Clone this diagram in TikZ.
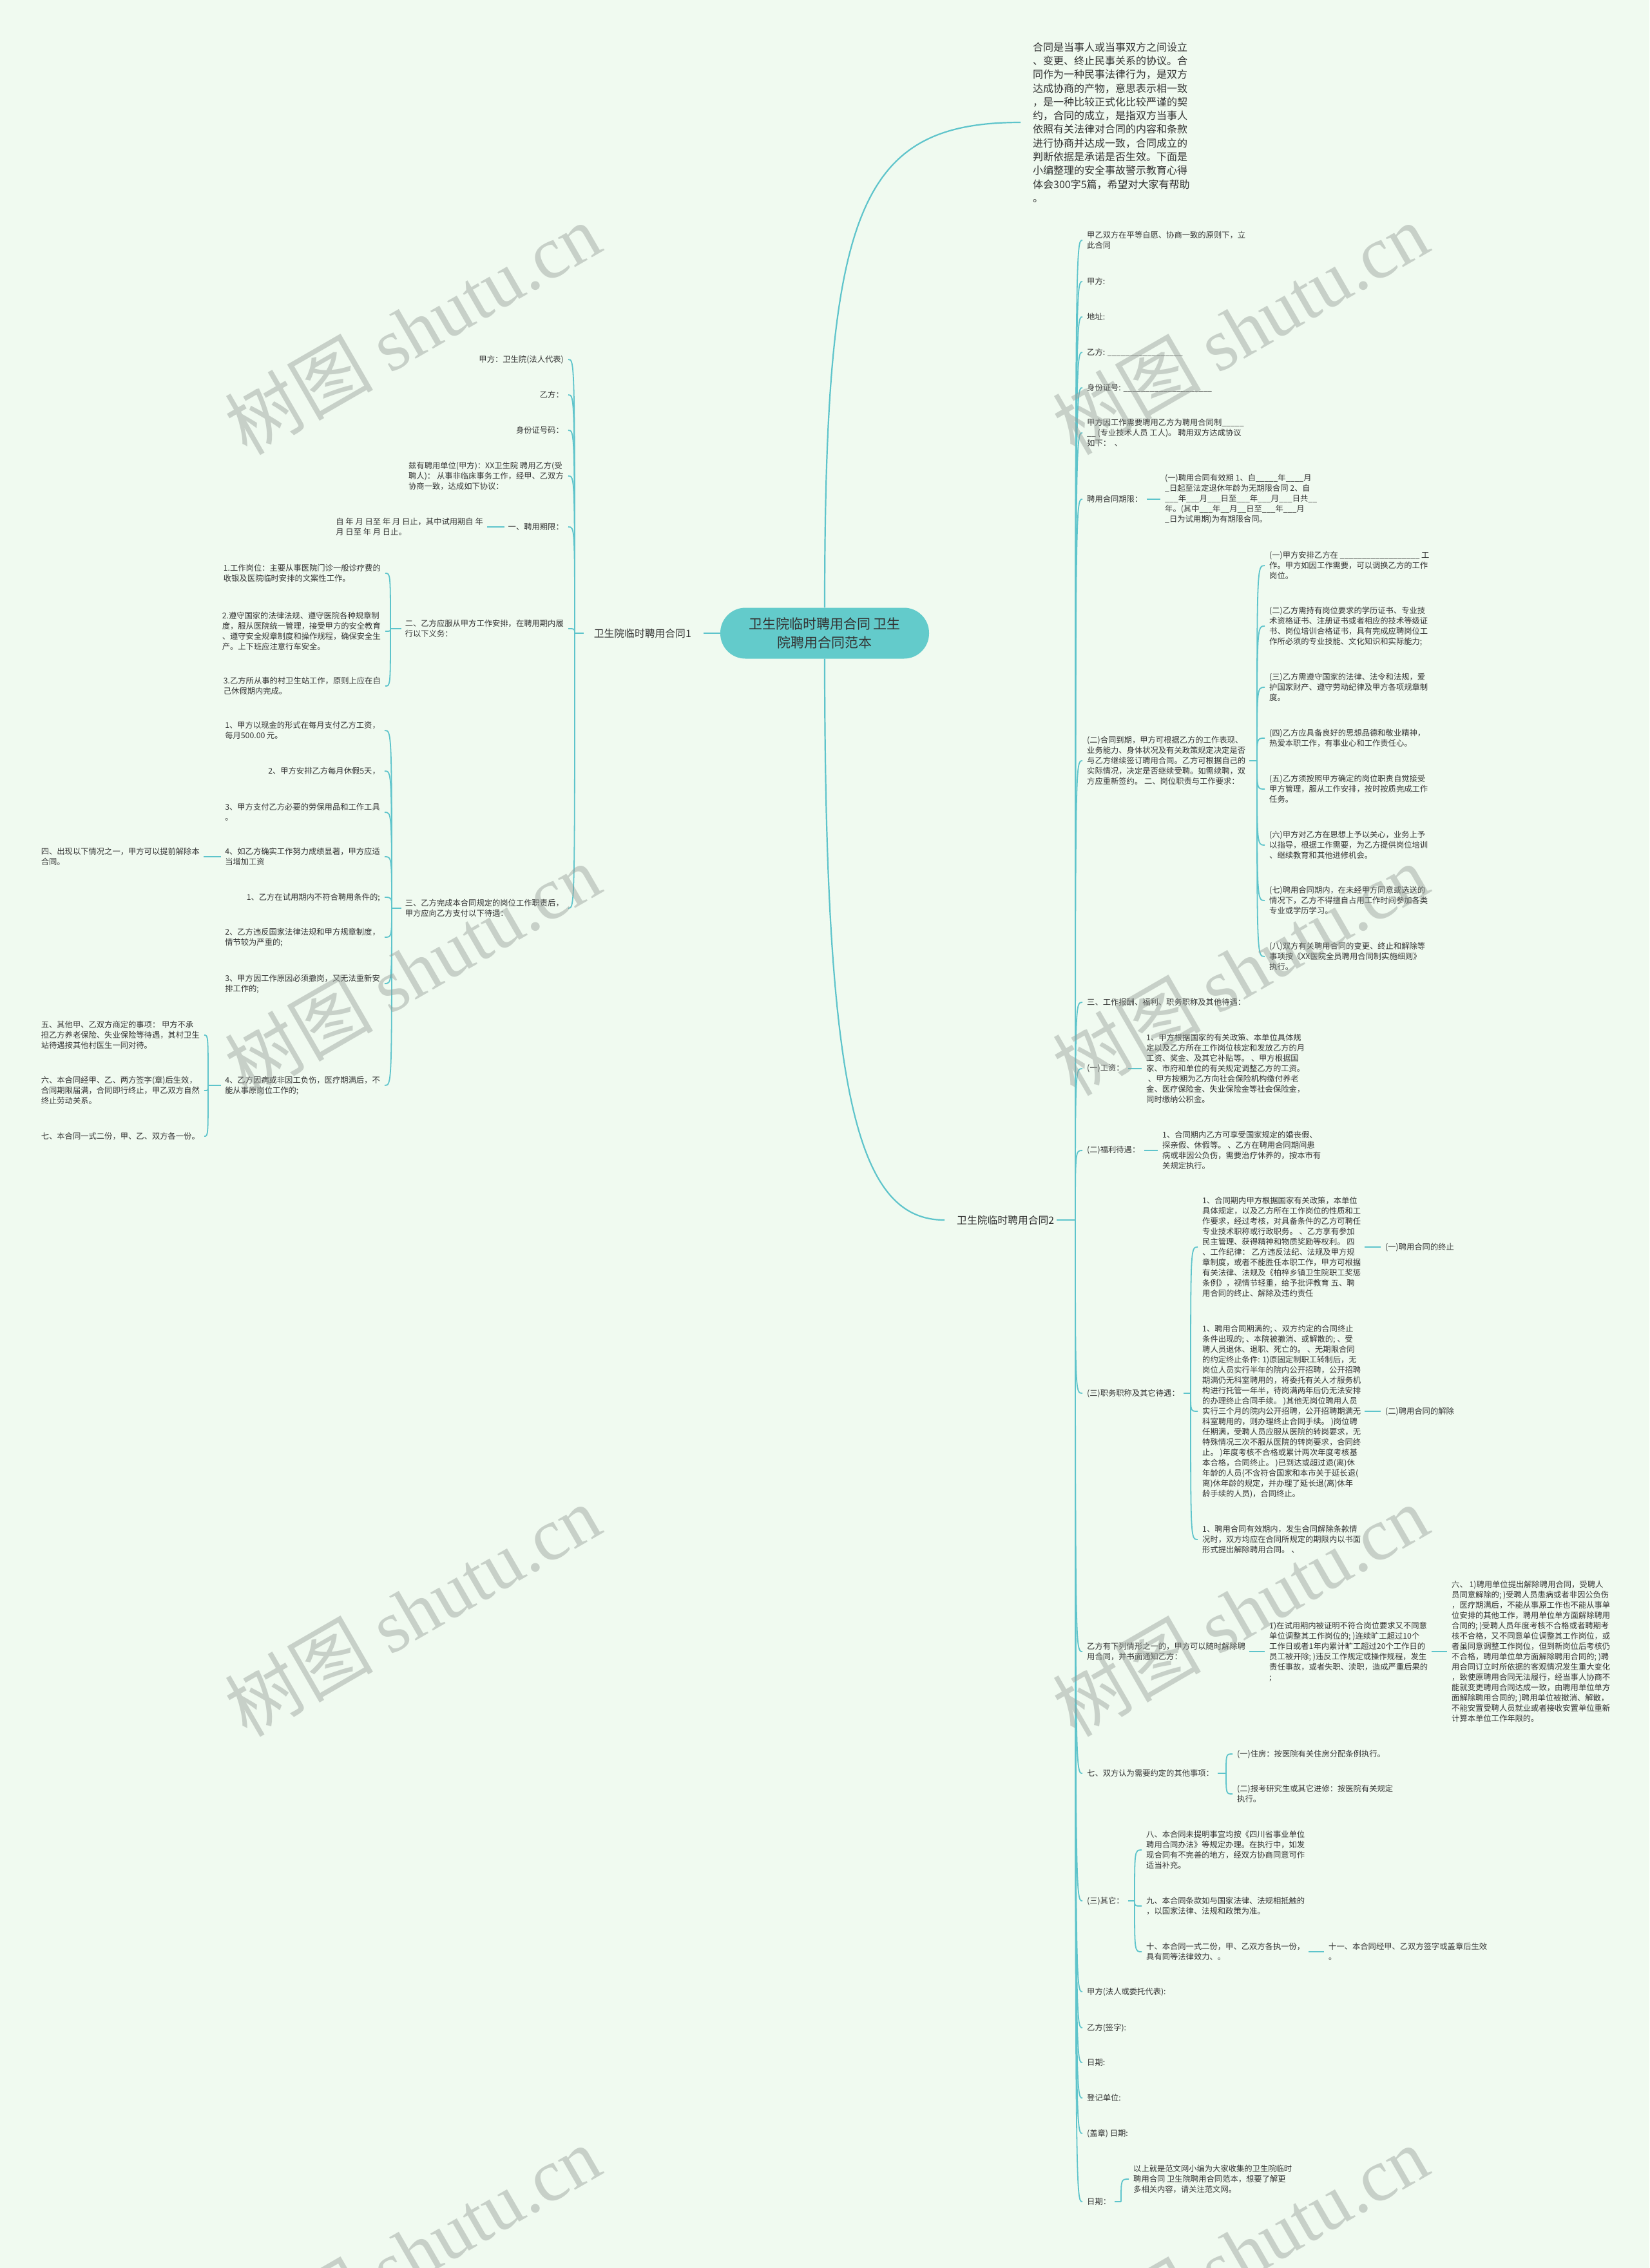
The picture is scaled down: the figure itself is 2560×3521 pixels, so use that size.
\documentclass[tikz,border=0pt]{standalone}
\usepackage{fontspec}
\setmainfont{Noto Sans CJK SC}
\newfontfamily\wmlat{Liberation Serif}
\definecolor{bgc}{RGB}{240,250,240}
\definecolor{linec}{RGB}{94,196,203}
\definecolor{nodec}{RGB}{99,203,203}
\definecolor{textc}{RGB}{51,51,51}
\definecolor{wmc}{RGB}{150,158,152}
\newcommand\hookR[2]{\draw[ln] (#1) .. controls (#1 |- #2.west) .. ([xshift=-7pt]#2.west);}
\newcommand\hookL[2]{\draw[ln] (#1) .. controls (#1 |- #2.east) .. ([xshift=7pt]#2.east);}
\newcommand\barR[2]{\draw[ln] ([xshift=6pt]#1.east) -- ([xshift=-7pt]#2.west);}
\newcommand\barL[2]{\draw[ln] ([xshift=-6pt]#1.west) -- ([xshift=6pt]#2.east);}
\newcommand\us[1]{\foreach \i in {1,...,#1}{\_}}
\begin{document}
\begin{tikzpicture}[x=1pt,y=-1pt,
  txt/.style={inner sep=0pt, font=\fontsize{12.3}{16}\selectfont, text=textc, align=left},
  rt/.style={txt, anchor=west},
  lt/.style={txt, anchor=east},
  ln/.style={draw=linec, line width=1.8pt},
  lnmain/.style={draw=linec, line width=2.2pt},
  wm/.style={rotate=30, text=wmc, opacity=0.45, font=\fontsize{115}{120}\selectfont, inner sep=0pt}
]
\useasboundingbox (0,0) rectangle (2560,3521);
\fill[bgc] (0,0) rectangle (2560,3521);

% ---------- centre ----------
\node[fill=nodec, rounded corners=39pt, minimum width=324pt, minimum height=79pt, inner sep=0pt,
  align=center, font=\fontsize{21}{29}\selectfont, text=textc] (c) at (1280,983)
  {卫生院临时聘用合同 卫生\\院聘用合同范本};

% ---------- intro ----------
\node[rt, font=\fontsize{16}{21.3}\selectfont] (intro) at (1603,190)
 {合同是当事人或当事双方之间设立\\、变更、终止民事关系的协议。合\\同作为一种民事法律行为，是双方\\达成协商的产物，意思表示相一致\\，是一种比较正式化比较严谨的契\\约，合同的成立，是指双方当事人\\依照有关法律对合同的内容和条款\\进行协商并达成一致，合同成立的\\判断依据是承诺是否生效。下面是\\小编整理的安全事故警示教育心得\\体会300字5篇，希望对大家有帮助\\。};
\draw[lnmain] (c.north) .. controls (1280,330) and (1330,190) .. ([xshift=-19pt]intro.west);

% ---------- branch 2 ----------
\node[rt, font=\fontsize{15.8}{20}\selectfont] (b2) at (1485,1894) {卫生院临时聘用合同2};
\draw[lnmain] (c.south) .. controls (1280,1700) and (1330,1894) .. ([xshift=-19pt]b2.west);
\coordinate (R2) at (1669,1894);
\draw[ln] ([xshift=4pt]b2.east) -- (R2);

\node[rt] (r1) at (1687,373) {甲乙双方在平等自愿、协商一致的原则下，立\\此合同};
\node[rt] (r2) at (1687,437) {甲方:};
\node[rt] (r3) at (1687,492) {地址:};
\node[rt] (r4) at (1687,547) {乙方: \us{17}};
\node[rt] (r5) at (1687,602) {身份证号: \us{20}};
\node[rt] (r6) at (1687,672) {甲方因工作需要聘用乙方为聘用合同制\us{5}\\\us{2} (专业技术人员 工人)。 聘用双方达成协议\\如下：\ \ 、};
\node[rt] (r7) at (1687,775) {聘用合同期限：};
\node[rt] (r8) at (1687,1181) {(二)合同到期，甲方可根据乙方的工作表现、\\业务能力、身体状况及有关政策规定决定是否\\与乙方继续签订聘用合同。乙方可根据自己的\\实际情况，决定是否继续受聘。如需续聘，双\\方应重新签约。 二、岗位职责与工作要求：};
\node[rt] (r9) at (1687,1556) {三、工作报酬、福利、职务职称及其他待遇：};
\node[rt] (r10) at (1687,1659) {(一)工资：};
\node[rt] (r11) at (1687,1786) {(二)福利待遇：};
\node[rt] (r12) at (1687,2163) {(三)职务职称及其它待遇：};
\node[rt] (r13) at (1687,2564) {乙方有下列情形之一的，甲方可以随时解除聘\\用合同，并书面通知乙方：};
\node[rt] (r14) at (1687,2753) {七、双方认为需要约定的其他事项：};
\node[rt] (r15) at (1687,2951) {(三)其它：};
\node[rt] (r16) at (1687,3092) {甲方(法人或委托代表):};
\node[rt] (r17) at (1687,3148) {乙方(签字):};
\node[rt] (r18) at (1687,3202) {日期:};
\node[rt] (r19) at (1687,3257) {登记单位:};
\node[rt] (r20) at (1687,3312) {(盖章) 日期:};
\node[rt] (r21) at (1687,3418) {日期：};
\foreach \n in {r1,r2,r3,r4,r5,r6,r7,r8,r9,r10,r11,r12,r13,r14,r15,r16,r17,r18,r19,r20,r21}{\hookR{R2}{\n}}

% r7
\node[rt] (r7a) at (1808,775) {(一)聘用合同有效期 1、自\us{5}年\us{4}月\\\_日起至法定退休年龄为无期限合同 2、自\\\us{3}年\us{3}月\us{3}日至\us{3}年\us{3}月\us{3}日共\us{2}\\年。(其中\us{3}年\us{2}月\us{2}日至\us{3}年\us{3}月\\\_日为试用期)为有期限合同。};
\barR{r7}{r7a}

% r8 children
\coordinate (k8) at (1951,1181);
\draw[ln] ([xshift=6pt]r8.east) -- (k8);
\node[rt] (r8a) at (1970,878) {(一)甲方安排乙方在 \us{18} 工\\作。甲方如因工作需要，可以调换乙方的工作\\岗位。};
\node[rt] (r8b) at (1970,972) {(二)乙方需持有岗位要求的学历证书、专业技\\术资格证书、注册证书或者相应的技术等级证\\书、岗位培训合格证书，具有完成应聘岗位工\\作所必须的专业技能、文化知识和实际能力;};
\node[rt] (r8c) at (1970,1067) {(三)乙方需遵守国家的法律、法令和法规，爱\\护国家财产、遵守劳动纪律及甲方各项规章制\\度。};
\node[rt] (r8d) at (1970,1146) {(四)乙方应具备良好的思想品德和敬业精神，\\热爱本职工作，有事业心和工作责任心。};
\node[rt] (r8e) at (1970,1225) {(五)乙方须按照甲方确定的岗位职责自觉接受\\甲方管理，服从工作安排，按时按质完成工作\\任务。};
\node[rt] (r8f) at (1970,1312) {(六)甲方对乙方在思想上予以关心，业务上予\\以指导，根据工作需要，为乙方提供岗位培训\\、继续教育和其他进修机会。};
\node[rt] (r8g) at (1970,1398) {(七)聘用合同期内，在未经甲方同意或选送的\\情况下，乙方不得擅自占用工作时间参加各类\\专业或学历学习。};
\node[rt] (r8h) at (1970,1485) {(八)双方有关聘用合同的变更、终止和解除等\\事项按《XX医院全员聘用合同制实施细则》\\执行。};
\foreach \n in {r8a,r8b,r8c,r8d,r8e,r8f,r8g,r8h}{\hookR{k8}{\n}}

% r10, r11
\node[rt] (r10a) at (1779,1659) {1、甲方根据国家的有关政策、本单位具体规\\定以及乙方所在工作岗位核定和发放乙方的月\\工资、奖金、及其它补贴等。 、甲方根据国\\家、市府和单位的有关规定调整乙方的工资。\\\ 、甲方按期为乙方向社会保险机构缴付养老\\金、医疗保险金、失业保险金等社会保险金，\\同时缴纳公积金。};
\barR{r10}{r10a}
\node[rt] (r11a) at (1804,1786) {1、合同期内乙方可享受国家规定的婚丧假、\\探亲假、休假等。 、乙方在聘用合同期间患\\病或非因公负伤，需要治疗休养的，按本市有\\关规定执行。};
\barR{r11}{r11a}

% r12
\coordinate (k12) at (1848,2163);
\draw[ln] ([xshift=6pt]r12.east) -- (k12);
\node[rt] (r12a) at (1866,1936) {1、合同期内甲方根据国家有关政策，本单位\\具体规定，以及乙方所在工作岗位的性质和工\\作要求，经过考核，对具备条件的乙方可聘任\\专业技术职称或行政职务。 、乙方享有参加\\民主管理、获得精神和物质奖励等权利。 四\\、工作纪律： 乙方违反法纪、法规及甲方规\\章制度，或者不能胜任本职工作，甲方可根据\\有关法律、法规及《柏梓乡镇卫生院职工奖惩\\条例》，视情节轻重，给予批评教育 五、聘\\用合同的终止、解除及违约责任};
\node[rt] (r12b) at (1866,2191) {1、聘用合同期满的; 、双方约定的合同终止\\条件出现的; 、本院被撤消、或解散的; 、受\\聘人员退休、退职、死亡的。 、无期限合同\\的约定终止条件: 1)原固定制职工转制后，无\\岗位人员实行半年的院内公开招聘，公开招聘\\期满仍无科室聘用的，将委托有关人才服务机\\构进行托管一年半，待岗满两年后仍无法安排\\的办理终止合同手续。 )其他无岗位聘用人员\\实行三个月的院内公开招聘，公开招聘期满无\\科室聘用的，则办理终止合同手续。 )岗位聘\\任期满，受聘人员应服从医院的转岗要求，无\\特殊情况三次不服从医院的转岗要求，合同终\\止。 )年度考核不合格或累计两次年度考核基\\本合格，合同终止。 )已到达或超过退(离)休\\年龄的人员(不含符合国家和本市关于延长退(\\离)休年龄的规定，并办理了延长退(离)休年\\龄手续的人员)，合同终止。};
\node[rt] (r12c) at (1866,2390) {1、聘用合同有效期内，发生合同解除条款情\\况时，双方均应在合同所规定的期限内以书面\\形式提出解除聘用合同。 、};
\foreach \n in {r12a,r12b,r12c}{\hookR{k12}{\n}}
\node[rt] (r12a1) at (2150,1936) {(一)聘用合同的终止};
\barR{r12a}{r12a1}
\node[rt] (r12b1) at (2150,2191) {(二)聘用合同的解除};
\barR{r12b}{r12b1}

% r13
\node[rt] (r13a) at (1970,2564) {1)在试用期内被证明不符合岗位要求又不同意\\单位调整其工作岗位的; )连续旷工超过10个\\工作日或者1年内累计旷工超过20个工作日的\\员工被开除; )违反工作规定或操作规程，发生\\责任事故，或者失职、渎职，造成严重后果的\\;};
\barR{r13}{r13a}
\node[rt] (r13b) at (2253,2564) {六、 1)聘用单位提出解除聘用合同，受聘人\\员同意解除的; )受聘人员患病或者非因公负伤\\，医疗期满后，不能从事原工作也不能从事单\\位安排的其他工作，聘用单位单方面解除聘用\\合同的; )受聘人员年度考核不合格或者聘期考\\核不合格，又不同意单位调整其工作岗位，或\\者虽同意调整工作岗位，但到新岗位后考核仍\\不合格，聘用单位单方面解除聘用合同的; )聘\\用合同订立时所依据的客观情况发生重大变化\\，致使原聘用合同无法履行，经当事人协商不\\能就变更聘用合同达成一致，由聘用单位单方\\面解除聘用合同的; )聘用单位被撤消、解散，\\不能安置受聘人员就业或者接收安置单位重新\\计算本单位工作年限的。};
\barR{r13a}{r13b}

% r14
\coordinate (k14) at (1903,2753);
\draw[ln] ([xshift=6pt]r14.east) -- (k14);
\node[rt] (r14a) at (1920,2723) {(一)住房：按医院有关住房分配条例执行。};
\node[rt] (r14b) at (1920,2785) {(二)报考研究生或其它进修：按医院有关规定\\执行。};
\foreach \n in {r14a,r14b}{\hookR{k14}{\n}}

% r15
\coordinate (k15) at (1761,2951);
\draw[ln] ([xshift=6pt]r15.east) -- (k15);
\node[rt] (r15a) at (1779,2872) {八、本合同未提明事宜均按《四川省事业单位\\聘用合同办法》等规定办理。在执行中，如发\\现合同有不完善的地方，经双方协商同意可作\\适当补充。};
\node[rt] (r15b) at (1779,2959) {九、本合同条款如与国家法律、法规相抵触的\\，以国家法律、法规和政策为准。};
\node[rt] (r15c) at (1779,3030) {十、本合同一式二份，甲、乙双方各执一份，\\具有同等法律效力、。};
\foreach \n in {r15a,r15b,r15c}{\hookR{k15}{\n}}
\node[rt] (r15c1) at (2062,3030) {十一、本合同经甲、乙双方签字或盖章后生效\\。};
\barR{r15c}{r15c1}

% r21
\coordinate (k21) at (1740,3418);
\draw[ln] ([xshift=6pt]r21.east) -- (k21);
\node[rt] (r21a) at (1759,3383) {以上就是范文网小编为大家收集的卫生院临时\\聘用合同 卫生院聘用合同范本，想要了解更\\多相关内容，请关注范文网。};
\hookR{k21}{r21a}

% ---------- branch 1 ----------
\node[lt, font=\fontsize{15.8}{20}\selectfont] (b1) at (1073,983) {卫生院临时聘用合同1};
\draw[ln] (c.west) -- ([xshift=19pt]b1.east);
\coordinate (L1) at (892,983);
\draw[ln] ([xshift=-16pt]b1.west) -- (L1);

\node[lt] (l1) at (875,558) {甲方：卫生院(法人代表)};
\node[lt] (l2) at (875,613) {乙方：};
\node[lt] (l3) at (875,668) {身份证号码：};
\node[lt] (l4) at (875,739) {兹有聘用单位(甲方)：XX卫生院 聘用乙方(受\\聘人)： 从事非临床事务工作，经甲、乙双方\\协商一致，达成如下协议：};
\node[lt] (l5) at (875,818) {一、聘用期限：};
\node[lt] (l6) at (875,976) {二、乙方应服从甲方工作安排，在聘用期内履\\行以下义务：};
\node[lt] (l7) at (875,1410) {三、乙方完成本合同规定的岗位工作职责后，\\甲方应向乙方支付以下待遇：};
\foreach \n in {l1,l2,l3,l4,l5,l6,l7}{\hookL{L1}{\n}}

\node[lt] (l5a) at (750,818) {自 年 月 日至 年 月 日止，其中试用期自 年\\月 日至 年 月 日止。};
\barL{l5}{l5a}

\coordinate (k6) at (606,976);
\draw[ln] ([xshift=-6pt]l6.west) -- (k6);
\node[lt] (l6a) at (591,890) {1.工作岗位：主要从事医院门诊一般诊疗费的\\收银及医院临时安排的文案性工作。};
\node[lt] (l6b) at (591,980) {2.遵守国家的法律法规、遵守医院各种规章制\\度，服从医院统一管理，接受甲方的安全教育\\、遵守安全规章制度和操作规程，确保安全生\\产。上下班应注意行车安全。};
\node[lt] (l6c) at (591,1065) {3.乙方所从事的村卫生站工作，原则上应在自\\己休假期内完成。};
\foreach \n in {l6a,l6b,l6c}{\hookL{k6}{\n}}

\coordinate (k7) at (608,1410);
\draw[ln] ([xshift=-6pt]l7.west) -- (k7);
\node[lt] (l7a) at (590,1134) {1、甲方以现金的形式在每月支付乙方工资，\\每月500.00 元。};
\node[lt] (l7b) at (590,1197) {2、甲方安排乙方每月休假5天，};
\node[lt] (l7c) at (590,1261) {3、甲方支付乙方必要的劳保用品和工作工具\\。};
\node[lt] (l7d) at (590,1330) {4、如乙方确实工作努力成绩显著，甲方应适\\当增加工资};
\node[lt] (l7e) at (590,1393) {1、乙方在试用期内不符合聘用条件的;};
\node[lt] (l7f) at (590,1455) {2、乙方违反国家法律法规和甲方规章制度，\\情节较为严重的;};
\node[lt] (l7g) at (590,1527) {3、甲方因工作原因必须撤岗，又无法重新安\\排工作的;};
\node[lt] (l7h) at (590,1685) {4、乙方因病或非因工负伤，医疗期满后，不\\能从事原岗位工作的;};
\foreach \n in {l7a,l7b,l7c,l7d,l7e,l7f,l7g,l7h}{\hookL{k7}{\n}}

\node[lt] (l7d1) at (310,1330) {四、出现以下情况之一，甲方可以提前解除本\\合同。};
\barL{l7d}{l7d1}

\coordinate (k7h) at (323,1685);
\draw[ln] ([xshift=-6pt]l7h.west) -- (k7h);
\node[lt] (l7h1) at (310,1607) {五、其他甲、乙双方商定的事项： 甲方不承\\担乙方养老保险、失业保险等待遇，其村卫生\\站待遇按其他村医生一同对待。};
\node[lt] (l7h2) at (310,1693) {六、本合同经甲、乙、两方签字(章)后生效，\\合同期限届满，合同即行终止，甲乙双方自然\\终止劳动关系。};
\node[lt] (l7h3) at (310,1764) {七、本合同一式二份，甲、乙、双方各一份。};
\foreach \n in {l7h1,l7h2,l7h3}{\hookL{k7h}{\n}}

% ---------- watermarks ----------
\foreach \wx in {640,1925}{
  \foreach \wy in {510,1505,2500,3495}{
    \node[wm] at (\wx,\wy) {树图 {\wmlat shutu.cn}};
  }
}
\end{tikzpicture}
\end{document}
